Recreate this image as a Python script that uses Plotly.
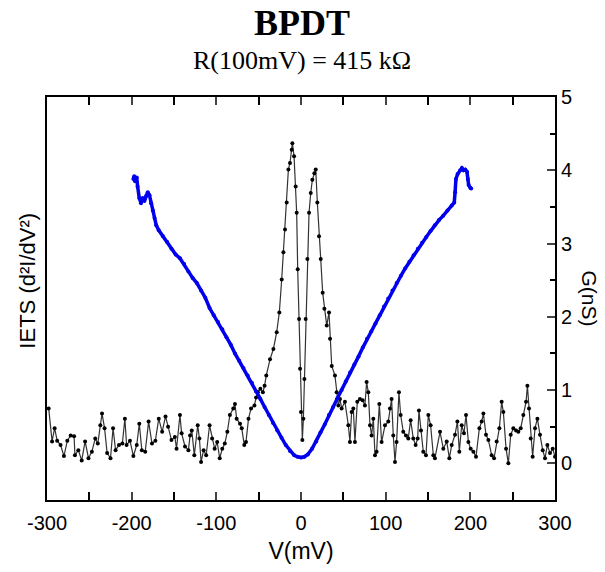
import plotly.graph_objects as go

# IETS (black) trace: bias V (mV) and signal (arb. units, plotted on same scale as G)
iets_v = [-298, -294, -291, -288, -284, -280, -276, -272, -268, -267, -263, -259, -255, -251, -247,
          -243, -240, -237, -235, -232, -229, -225, -222, -219, -215, -211, -208, -206, -202, -198,
          -194, -191, -188, -184, -180, -176, -172, -168, -164, -160, -157,
          -153, -149, -147, -143, -141, -137, -133, -131, -129, -126, -122, -120, -118, -115, -112,
          -108, -105, -102, -99, -96, -93, -90, -87, -84, -80, -78, -76, -72, -70, -67, -65, -62,
          -59, -55, -53, -51, -48, -45, -43, -41,
          -36.6, -32.6, -28.7, -25.6, -22.8, -20.8, -18.9, -16.9, -14.9, -13, -11, -10.2, -8.2,
          -6.3, -5.1, -3.9, -2.3, -1.1, 0.0, 1.6, 2.8, 4.0, 5.5, 7.5, 9.5, 11.5, 13.4, 15.8, 17.4,
          19.3, 21.3, 23.3, 25.6, 27.6, 30.4, 33.1, 34.3, 36.3,
          40.1, 42.1, 44.1, 46.0, 48.0, 51.9, 55.9, 57.8, 59.8, 61.8, 63.7, 66.5, 69.6, 72.8, 75.5,
          77.5, 79.5, 81.5, 83.4, 85.4, 87.4, 89.3, 92.5, 95.2, 99.2, 103.1, 105.1, 107.0, 109.0,
          111.0, 112.9, 115.7, 117.7, 120.8, 124.0, 126.7, 129.5, 132.6, 135.4, 137.8, 139.3,
          141.7, 144.4, 147.6, 150.4, 153.1, 156.3, 158.2,
          164.2, 168.1, 172.1, 175.2, 178.0, 181.9, 184.7, 187.0, 189.8, 192.5, 194.9, 197.7,
          200.4, 203.6, 206.7, 210.7, 213.4, 215.4, 218.5, 221.3, 225.2, 228.0, 231.1, 234.3,
          237.0, 239.0, 242.2, 244.9, 247.7, 250.8, 254.0, 256.7, 259.5, 262.6, 265.8, 267.4,
          269.3, 271.3, 273.6, 276.4, 279.2, 282.3, 285.5, 288.2, 291.0, 294.1, 297.3, 300.0]
iets_val = [0.75, 0.30, 0.48, 0.31, 0.25, 0.10, 0.31, 0.38, 0.37, 0.11, 0.18, 0.04, 0.30, 0.07, 0.16,
            0.34, 0.27, 0.52, 0.68, 0.48, 0.14, 0.07, 0.48, 0.18, 0.25, 0.27, 0.61, 0.25, 0.31, 0.10,
            0.25, 0.54, 0.18, 0.16, 0.57, 0.27, 0.31, 0.61, 0.43, 0.64, 0.50,
            0.32, 0.36, 0.20, 0.66, 0.41, 0.23, 0.18, 0.38, 0.45, 0.11, 0.52, 0.34, 0.02, 0.18, 0.11,
            0.52, 0.34, 0.20, 0.29, 0.07, 0.20, 0.27, 0.43, 0.66, 0.75, 0.81, 0.61, 0.54, 0.48, 0.25,
            0.29, 0.61,
            0.75, 0.79, 0.90, 0.97, 1.02, 0.97, 1.06, 1.20,
            1.42, 1.56, 1.79, 2.06, 2.51, 2.88, 3.19, 3.56, 4.01, 4.10, 4.28, 4.37, 4.19,
            3.78, 3.42, 2.65, 1.97, 1.29, 0.70, 0.32, 0.61, 1.15, 1.97, 2.79, 3.42, 3.69, 3.87, 3.96,
            4.01, 3.56, 3.10, 2.79, 2.33, 2.11, 1.88, 2.06, 1.70, 1.33,
            1.20, 0.97, 0.79, 0.88, 0.75, 0.84, 0.52, 0.29, 0.70, 0.75, 0.29, 0.84, 0.88, 0.86, 0.79,
            1.11, 0.97, 0.52, 0.38, 0.61, 0.11, 0.16, 0.81, 0.29, 0.52, 0.57, 0.75, 0.88, 0.38,
            0.02, 0.29, 0.97, 0.66, 0.43, 0.38, 0.34, 0.59, 0.34, 0.25, 0.34, 0.72,
            0.45, 0.16, 0.11, 0.66, 0.52, 0.11, 0.07,
            0.43, 0.20, 0.30, 0.07, 0.25, 0.39, 0.57, 0.16, 0.52, 0.41, 0.66, 0.29,
            0.20, 0.16, 0.09, 0.48, 0.57, 0.68, 0.39, 0.32, 0.11, 0.07, 0.30, 0.48,
            0.84, 0.70, 0.20, 0.00, 0.39, 0.48, 0.45, 0.43, 0.48, 0.66, 0.84, 1.06,
            0.75, 0.34, 0.09, 0.48, 0.61, 0.39, 0.18, 0.07, 0.25, 0.14, 0.20, 0.09]

# Conductance (blue) trace: bias V (mV) and G (nS)
g_v = [-198, -197, -196, -194, -193, -191, -189, -187, -185, -183, -181, -179, -177, -175, -173,
       -171, -168, -163, -158, -153, -148, -143, -138, -133, -128, -123, -118, -113, -108, -103,
       -98, -93, -88, -83, -78, -73, -68, -63, -58, -53, -48, -43, -38, -33, -28, -23, -18, -13,
       -8, -4, 0, 4, 8, 13, 18, 23, 28, 33, 38, 43, 48, 53, 58, 63, 68, 73, 78, 83, 88, 93, 98,
       103, 108, 113, 118, 123, 128, 133, 138, 143, 148, 153, 158, 163, 168, 173, 178, 181, 182,
       183, 185, 188, 190, 192, 194, 196, 197, 198, 200, 201]
g_val = [3.88, 3.92, 3.85, 3.90, 3.78, 3.62, 3.55, 3.62, 3.58, 3.65, 3.70, 3.66, 3.55, 3.45, 3.35,
         3.25, 3.18, 3.10, 3.02, 2.93, 2.85, 2.80, 2.72, 2.62, 2.53, 2.46, 2.36, 2.26, 2.12, 2.02,
         1.93, 1.83, 1.72, 1.62, 1.50, 1.40, 1.30, 1.20, 1.10, 0.98, 0.88, 0.77, 0.66, 0.55, 0.45,
         0.35, 0.25, 0.17, 0.11, 0.09, 0.08, 0.09, 0.12, 0.20, 0.30, 0.42, 0.53, 0.66, 0.77, 0.89,
         1.00, 1.12, 1.24, 1.35, 1.46, 1.58, 1.70, 1.80, 1.91, 2.02, 2.14, 2.25, 2.36, 2.46, 2.56,
         2.66, 2.75, 2.84, 2.93, 3.01, 3.09, 3.17, 3.25, 3.32, 3.38, 3.45, 3.52, 3.56, 3.70, 3.88,
         3.95, 4.00, 4.03, 4.00, 4.01, 3.98, 3.88, 3.80, 3.76, 3.75]

x_ticks = [-300, -200, -100, 0, 100, 200, 300]
x_tick_text = ["-300", "-200", "-100", "0", "100", "200", "300"]
g_ticks = [0, 1, 2, 3, 4, 5]

fig = go.Figure()
fig.add_trace(go.Scatter(
    x=iets_v, y=iets_val, mode="lines+markers", yaxis="y",
    line=dict(color="#333333", width=1.2),
    marker=dict(color="black", size=4), showlegend=False))
fig.add_trace(go.Scatter(
    x=g_v, y=g_val, mode="lines+markers", yaxis="y2",
    line=dict(color="#0000ee", width=3.5),
    marker=dict(color="#0000ee", size=4), showlegend=False))

sans = "Liberation Sans, Arial, sans-serif"
serif = "Liberation Serif, Times New Roman, serif"

fig.update_layout(
    width=605, height=572,
    margin=dict(l=47, r=50, t=97, b=69),
    plot_bgcolor="white", paper_bgcolor="white",
    font=dict(family=sans, size=20, color="black"),
    xaxis=dict(
        range=[-300, 300], tickvals=x_ticks, ticktext=x_tick_text, ticks="inside", ticklen=8,
        tickwidth=1.5, showline=True, linewidth=2, linecolor="black", mirror="allticks",
        showgrid=False, zeroline=False, ticklabelstandoff=4,
        minor=dict(dtick=50, ticks="inside", ticklen=5, tickwidth=1.5, tickcolor="black"),
        title=dict(text="V(mV)", font=dict(size=23), standoff=10),
        tickfont=dict(size=20)),
    yaxis=dict(
        range=[-0.5, 5], showticklabels=False, ticks="", showline=True, linewidth=2,
        linecolor="black", showgrid=False, zeroline=False),
    yaxis2=dict(
        range=[-0.5, 5], overlaying="y", side="right", tickvals=g_ticks, ticks="inside",
        ticklen=8, tickwidth=1.5, showline=True, linewidth=2, linecolor="black",
        showgrid=False, zeroline=False,
        minor=dict(dtick=0.5, ticks="inside", ticklen=5, tickwidth=1.5, tickcolor="black"),
        tickfont=dict(size=20)),
    annotations=[
        dict(text="<b>BPDT</b>", showarrow=False, font=dict(family=serif, size=36)),
        dict(text="R(100mV) = 415 kΩ", showarrow=False, font=dict(family=serif, size=26)),
        dict(text="IETS (d²I/dV²)", textangle=-90, showarrow=False, font=dict(size=22)),
        dict(text="G(nS)", textangle=90, showarrow=False, font=dict(size=21)),
    ],
)

# place annotations in pixel terms relative to plot area
pl, pr, pt, pb = 47, 555, 97, 503
def px_to_paper_x(px):
    return (px - pl) / (pr - pl)
def py_to_paper_y(py):
    return (pb - py) / (pb - pt)

anns = list(fig.layout.annotations)
pos = [(302, 22), (302, 60), (28, 282), (589, 300)]
for a, (ax, ay) in zip(anns, pos):
    a.x = px_to_paper_x(ax)
    a.y = py_to_paper_y(ay)
    a.xref = "paper"
    a.yref = "paper"
    a.xanchor = "center"
    a.yanchor = "middle"
fig.layout.annotations = anns

fig.write_html("out.html", config={"displayModeBar": False},
               post_script="document.body.style.margin='0';")
